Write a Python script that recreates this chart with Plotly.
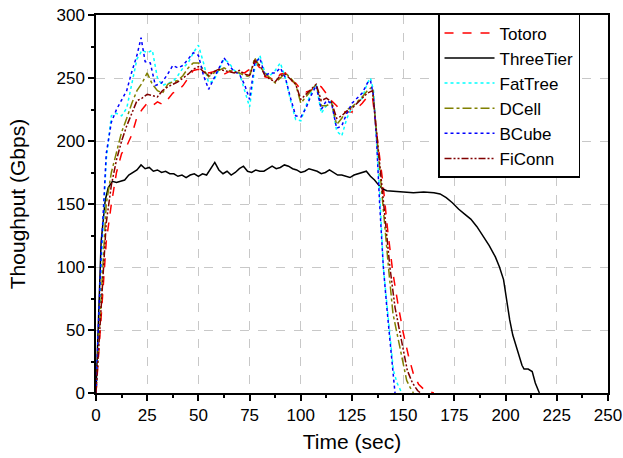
import plotly.graph_objects as go

# Totoro
totoro_t = [0, 2.5, 5, 7.5, 10, 12.5, 15, 17.5, 20, 22.5, 25, 27.5, 30, 32.5, 35, 37.5, 40, 42.5, 45, 47.5,
            50, 52.5, 55, 57.5, 60, 62.5, 65, 67.5, 70, 72.5, 75, 77.5, 80, 82.5, 85, 87.5, 90, 92.5, 95, 97.5,
            100, 102.5, 105, 107.5, 110, 112.5, 115, 117.5, 120, 122.5, 125, 127.5, 130, 132.5, 135, 137.5,
            140, 142.5, 145, 147.5, 150, 152.5, 155, 157.5, 160, 162.5, 165]
totoro_v = [0, 60, 120, 150, 175, 190, 196, 205, 219, 225, 230, 228, 231, 229, 233, 238, 240, 244, 250, 256,
            257, 256, 254, 255, 256, 253, 255, 256, 255, 254, 257, 263, 258, 251, 250, 248, 253, 254, 248, 246,
            241, 239, 240, 245, 243, 237, 232, 228, 223, 223, 223, 226, 230, 235, 235, 200,
            168, 128, 95, 70, 48, 30, 15, 7, 3, 1, 0]

# ThreeTier
threetier_t = [0, 2.5, 4.5, 6, 8, 10, 12, 14, 16, 18, 20, 22, 24, 26, 28, 30, 32, 34, 36, 38, 40, 42, 44, 46,
               48, 50, 52, 54, 56, 58, 60, 62, 64, 66, 68, 70, 72, 74, 76, 78, 80, 82, 84, 86, 88, 90, 92, 94,
               96, 98, 100, 102, 104, 106, 108, 110, 112, 114, 116, 118, 120, 122, 124, 126, 128, 130, 132,
               134, 136, 138, 140, 142, 146, 150, 155, 160, 165, 168, 171, 174, 177, 180, 183, 186, 189, 192,
               195, 197, 199, 200.5, 202, 203.5, 205, 206.5, 208, 209, 211, 213, 214.5, 216.5]
threetier_v = [0, 120, 153, 163, 168, 167, 168, 169, 173, 175, 177, 181, 178, 179, 176, 177, 175, 176, 174,
               174, 172, 173, 171, 173, 174, 172, 174, 173, 178, 183, 177, 174, 176, 173, 175, 178, 180, 176,
               175, 177, 176, 176, 178, 180, 178, 179, 181, 180, 178, 177, 175, 176, 178, 177, 176, 174, 175,
               177, 175, 173, 173, 172, 171, 173, 174, 175, 176, 172, 169, 165, 162, 160.5, 160, 160, 159,
               159.5, 159, 158, 155, 151, 146, 142, 138, 132, 125, 117, 108, 100, 90, 72, 58, 46, 38, 30, 22,
               19, 19, 17, 8, 0]

# FatTree
fattree_t = [0, 2.5, 5, 7.5, 10, 12.5, 15, 17.5, 20, 22.5, 25, 27.5, 30, 32.5, 35, 37.5, 40, 42.5, 45, 47.5,
             50, 52.5, 55, 57.5, 60, 62.5, 65, 67.5, 70, 72.5, 75, 77.5, 80, 82.5, 85, 87.5, 90, 92.5, 95, 97.5,
             100, 102.5, 105, 107.5, 110, 112.5, 115, 117.5, 120, 122.5, 125, 127.5, 130, 132.5, 134, 135.5,
             137, 138.5, 140.3, 142, 143.6, 145.2, 147, 149.3]
fattree_v = [0, 100, 185, 220, 222, 220, 226, 245, 265, 272, 270, 272, 250, 244, 246, 247, 252, 258, 262, 270,
             276, 262, 246, 248, 256, 265, 262, 256, 254, 240, 227, 258, 268, 254, 252, 256, 262, 250, 232, 217,
             216, 228, 238, 245, 222, 228, 232, 208, 204, 218, 227, 230, 234, 246, 250, 240,
             200, 160, 100, 70, 42, 18, 8, 0]

# DCell
dcell_t = [0, 2.5, 5, 7.5, 10, 12.5, 15, 17.5, 20, 22.5, 25, 27.5, 30, 32.5, 35, 37.5, 40, 42.5, 45, 47.5,
           50, 52.5, 55, 57.5, 60, 62.5, 65, 67.5, 70, 72.5, 75, 77.5, 80, 82.5, 85, 87.5, 90, 92.5, 95, 97.5,
           100, 102.5, 105, 107.5, 110, 112.5, 115, 117.5, 120, 122.5, 125, 127.5, 130, 132.5, 135, 137,
           138.7, 140.5, 142.8, 145, 148.4, 151.7, 153.5, 155]
dcell_v = [0, 80, 150, 175, 192, 207, 218, 230, 240, 246, 254, 245, 240, 238, 245, 247, 248, 252, 258, 262,
           262, 256, 251, 254, 256, 258, 256, 255, 254, 252, 251, 266, 259, 254, 250, 246, 250, 254, 250, 245,
           230, 235, 240, 245, 228, 228, 230, 213, 218, 225, 227, 231, 235, 240, 243, 206,
           174, 140, 100, 63, 37, 10, 4, 0]

# BCube
bcube_t = [0, 2.5, 5, 7.5, 10, 12.5, 15, 17.5, 20, 22, 24, 26.5, 29, 32, 35, 37.5, 40, 42.5, 45, 47.5,
           50, 52.5, 55, 57.5, 60, 62.5, 65, 67.5, 70, 72.5, 75, 77.5, 80, 82.5, 85, 87.5, 90, 92.5, 95, 97.5,
           100, 102.5, 105, 107.5, 110, 112.5, 115, 117.5, 120, 122.5, 125, 127.5, 130, 132.5, 134, 135.5,
           137, 138.5, 140.3, 142, 143.6, 145, 146]
bcube_v = [0, 110, 190, 215, 225, 232, 240, 255, 268, 282, 263, 262, 244, 246, 253, 260, 258, 260, 265, 270,
           268, 252, 241, 249, 258, 266, 260, 255, 253, 245, 233, 262, 266, 252, 254, 254, 258, 250, 234, 220,
           219, 226, 236, 244, 225, 232, 230, 210, 212, 222, 230, 234, 238, 246, 248, 236,
           200, 150, 100, 68, 40, 12, 0]

# FiConn
ficonn_t = [0, 2.5, 5, 7.5, 10, 12.5, 15, 17.5, 20, 22.5, 25, 27.5, 30, 32.5, 35, 37.5, 40, 42.5, 45, 47.5,
            50, 52.5, 55, 57.5, 60, 62.5, 65, 67.5, 70, 72.5, 75, 77.5, 80, 82.5, 85, 87.5, 90, 92.5, 95, 97.5,
            100, 102.5, 105, 107.5, 110, 112.5, 115, 117.5, 120, 122.5, 125, 127.5, 130, 132.5, 135, 137,
            138.7, 141, 143.5, 146, 149, 152, 154.5, 157, 158.5]
ficonn_v = [0, 70, 135, 165, 185, 200, 212, 222, 232, 234, 237, 236, 235, 240, 243, 245, 247, 250, 253, 257,
            259, 255, 252, 255, 257, 256, 255, 254, 256, 253, 252, 264, 260, 252, 249, 247, 252, 253, 249, 245,
            233, 237, 241, 245, 232, 234, 231, 218, 220, 224, 226, 230, 234, 238, 240, 208,
            178, 140, 100, 68, 42, 18, 8, 2, 0]

series = [
    ("Totoro", totoro_t, totoro_v, "#ff0000", "dash"),
    ("ThreeTier", threetier_t, threetier_v, "#000000", "solid"),
    ("FatTree", fattree_t, fattree_v, "#00ffff", "dot"),
    ("DCell", dcell_t, dcell_v, "#808000", "dashdot"),
    ("BCube", bcube_t, bcube_v, "#0000ff", "dot"),
    ("FiConn", ficonn_t, ficonn_v, "#800000", "7px,2px,2px,2px,2px,2px"),
]

fig = go.Figure()
for name, t, v, color, dash in series:
    fig.add_trace(go.Scatter(x=t, y=v, name=name, mode="lines",
                             line=dict(color=color, dash=dash, width=1.5)))

axis_common = dict(
    showline=True, linecolor="black", linewidth=1.5, mirror=True,
    ticks="outside", ticklen=6, tickwidth=1.5, tickcolor="black",
    showgrid=True, gridcolor="#c8c8c8", griddash="dash", gridwidth=1,
    zeroline=False, automargin=False, ticklabeloverflow="allow",
    tickfont=dict(size=17, color="black"),
)

fig.update_xaxes(range=[0, 250], dtick=25, tick0=0,
                 minor=dict(ticks="outside", ticklen=3, dtick=12.5, tickcolor="black", showgrid=False),
                 title=dict(text="Time (sec)", font=dict(size=21, color="black"), standoff=10),
                 **axis_common)
fig.update_yaxes(range=[0, 300], dtick=50, tick0=0,
                 minor=dict(ticks="outside", ticklen=3, dtick=25, tickcolor="black", showgrid=False),
                 title=dict(text="Thoughput (Gbps)", font=dict(size=21, color="black"), standoff=25),
                 **axis_common)

fig.update_layout(
    width=623, height=458,
    margin=dict(l=96, r=15, t=15, b=65),
    plot_bgcolor="white", paper_bgcolor="white",
    font=dict(family="Liberation Sans, Arial, sans-serif", color="black"),
    legend=dict(x=0.668, y=1.003, xanchor="left", yanchor="top",
                bordercolor="black", borderwidth=1.5, bgcolor="white",
                font=dict(size=17, color="black"), tracegroupgap=0, itemwidth=50),
)

# drop the default 8px body margin so the figure fills the window
fig.write_html("out.html", config={"displayModeBar": False},
               post_script="document.body.style.margin='0';")
